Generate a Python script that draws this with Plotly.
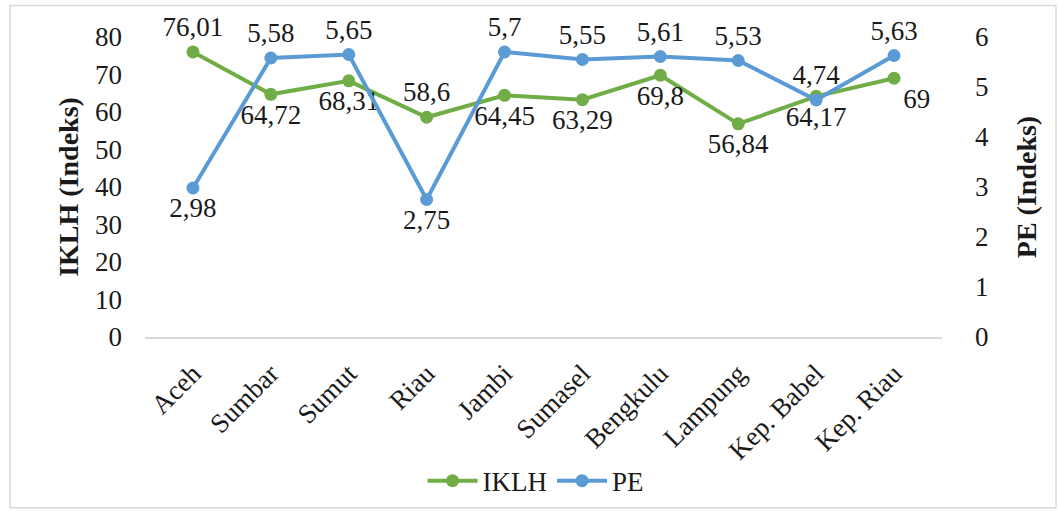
import plotly.graph_objects as go

categories = ["Aceh", "Sumbar", "Sumut", "Riau", "Jambi", "Sumasel", "Bengkulu", "Lampung", "Kep. Babel", "Kep. Riau"]
iklh = [76.01, 64.72, 68.31, 58.6, 64.45, 63.29, 69.8, 56.84, 64.17, 69]
pe = [2.98, 5.58, 5.65, 2.75, 5.7, 5.55, 5.61, 5.53, 4.74, 5.63]
iklh_pos = ["top center", "bottom center", "bottom center", "top center", "bottom center",
            "bottom center", "bottom center", "bottom center", "bottom center", "bottom right"]
pe_pos = ["bottom center", "top center", "top center", "bottom center", "top center",
          "top center", "top center", "top center", "top center", "top center"]

def fmt(v):
    return f"{v:g}".replace(".", ",")

GREEN = "#70AD47"
BLUE = "#5B9BD5"
FONT = "Liberation Serif"
TXT = "#1a1a1a"

fig = go.Figure()
fig.add_trace(go.Scatter(
    x=categories, y=iklh, name="IKLH", mode="lines+markers+text",
    line=dict(color=GREEN, width=4), marker=dict(size=13, color=GREEN),
    text=[fmt(v) for v in iklh], textposition=iklh_pos,
    textfont=dict(family=FONT, size=27, color=TXT), cliponaxis=False,
))
fig.add_trace(go.Scatter(
    x=categories, y=pe, name="PE", mode="lines+markers+text", yaxis="y2",
    line=dict(color=BLUE, width=4), marker=dict(size=13, color=BLUE),
    text=[fmt(v) for v in pe], textposition=pe_pos,
    textfont=dict(family=FONT, size=27, color=TXT), cliponaxis=False,
))

L, R, T, B = 145, 942, 37, 341
W, H = 1059, 517
pw, ph = R - L, B - T

def px(x):
    return (x - L) / pw

def py(y):
    return (B - y) / ph

fig.update_layout(
    width=W, height=H,
    margin=dict(l=L, r=W - R, t=T, b=H - B),
    paper_bgcolor="white", plot_bgcolor="white",
    font=dict(family=FONT, size=27, color=TXT),
    showlegend=True,
    legend=dict(orientation="h", x=0.49, xanchor="center", y=py(487), yanchor="middle",
                font=dict(family=FONT, size=27, color=TXT), itemwidth=50),
    xaxis=dict(showgrid=False, showline=True, linecolor="#d9d9d9", linewidth=2,
               tickangle=-45, tickfont=dict(family=FONT, size=27, color=TXT), ticks="",
               ticklabelstandoff=8),
    yaxis=dict(range=[0, 80], dtick=10, showgrid=False, zeroline=False, showline=False,
               ticklabelstandoff=22,
               title=dict(text="<b>IKLH (Indeks)</b>", font=dict(family=FONT, size=28, color=TXT), standoff=8),
               tickfont=dict(family=FONT, size=27, color=TXT)),
    yaxis2=dict(range=[0, 6], dtick=1, overlaying="y", side="right", showgrid=False,
                zeroline=False, showline=False, ticklabelstandoff=32,
                title=dict(text="<b>PE (Indeks)</b>", font=dict(family=FONT, size=28, color=TXT), standoff=28),
                tickfont=dict(family=FONT, size=27, color=TXT)),
    shapes=[dict(type="rect", xref="paper", yref="paper",
                 x0=px(10), x1=px(1056), y0=py(514), y1=py(5),
                 line=dict(color="#d9d9d9", width=1.5), layer="below")],
)

fig.write_html("out.html")
